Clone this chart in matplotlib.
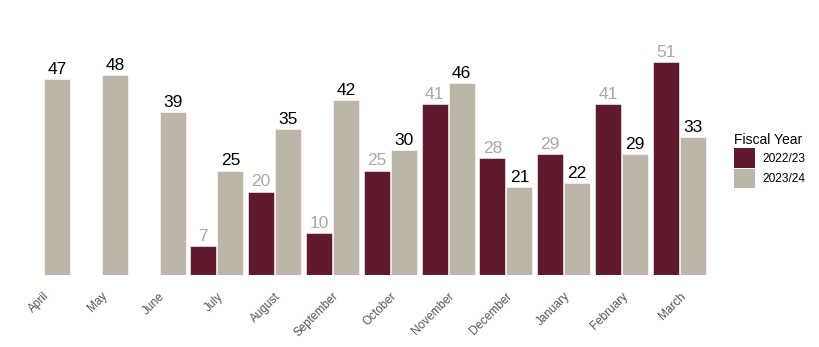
import numpy as np
import matplotlib
matplotlib.use('Agg')
import matplotlib.pyplot as plt
from matplotlib.patches import Patch

plt.rcParams['font.family'] = ['Liberation Sans', 'DejaVu Sans']

months = ['April', 'May', 'June', 'July', 'August', 'September', 'October',
          'November', 'December', 'January', 'February', 'March']
fy_2223 = [None, None, None, 7, 20, 10, 25, 41, 28, 29, 41, 51]
fy_2324 = [47, 48, 39, 25, 35, 42, 30, 46, 21, 22, 29, 33]

MAROON = '#5f1b2d'
BEIGE = '#bcb5a8'

fig = plt.figure(figsize=(8.2, 3.47), dpi=100)
# axes cover the whole width; baseline sits 72px above the bottom edge
ax = fig.add_axes([0, 72 / 347, 1, 275 / 347])

x = np.arange(len(months))
w = 0.45
off = 0.2336

x_prev = np.array([xi for xi, v in zip(x, fy_2223) if v is not None])
v_prev = np.array([v for v in fy_2223 if v is not None])
bars_prev = ax.bar(x_prev - off, v_prev, width=w, color=MAROON,
                   edgecolor='white', linewidth=0.4)
bars_cur = ax.bar(x + off, fy_2324, width=w, color=BEIGE,
                  edgecolor='white', linewidth=0.4)

for xi, v in zip(x_prev - off, v_prev):
    ax.annotate(str(v), (xi, v), xytext=(0, 3.8), textcoords='offset points',
                ha='center', va='baseline', fontsize=12.5, color='#a8a8a8')
for xi, v in zip(x + off, fy_2324):
    ax.annotate(str(v), (xi, v), xytext=(0, 3.8), textcoords='offset points',
                ha='center', va='baseline', fontsize=12.5, color='black')

ax.set_xlim(-43.5 / 57.8, (820 - 43.5) / 57.8)
ax.set_ylim(0, 275 / 4.17)
ax.set_xticks(x)
ax.set_xticklabels(months, rotation=45, ha='right', va='top',
                   rotation_mode='anchor', fontsize=8.5, color='#555555')
ax.tick_params(axis='x', length=0, pad=11)
ax.set_yticks([])
for s in ax.spines.values():
    s.set_visible(False)
ax.patch.set_alpha(0)

handles = [Patch(facecolor=MAROON, label='2022/23'),
           Patch(facecolor=BEIGE, label='2023/24')]
leg = fig.legend(handles=handles, title='Fiscal Year', loc='upper left',
                 bbox_to_anchor=(734 / 820, 1 - 133 / 347), frameon=False,
                 borderpad=0, borderaxespad=0, fontsize=8.6,
                 title_fontsize=10, handlelength=1.77, handleheight=2.15,
                 handletextpad=0.6, labelspacing=0.08, alignment='left')

fig.savefig('out.png', dpi=100)
